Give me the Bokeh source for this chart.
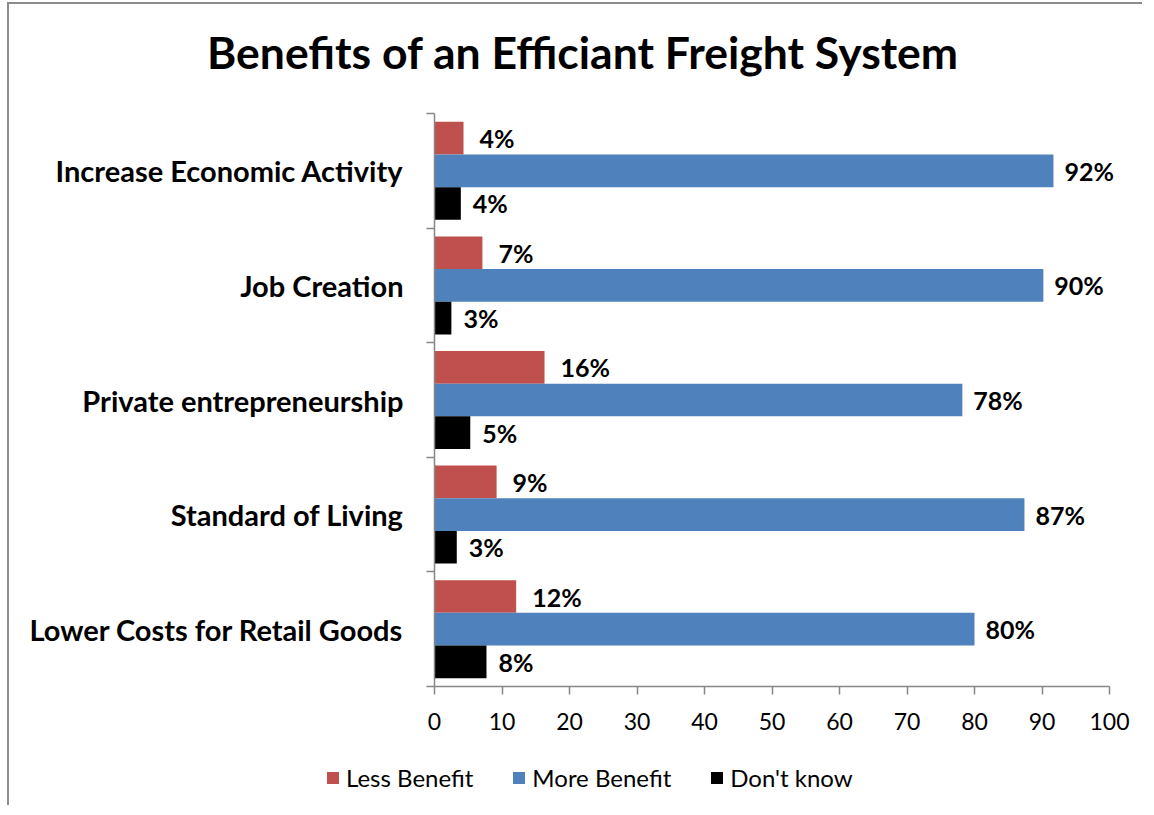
from bokeh.plotting import figure
from bokeh.models import Range1d, FixedTicker, Legend, LegendItem, ColumnDataSource, Label
from bokeh.core.properties import value
from bokeh.embed import file_html
from bokeh.resources import INLINE

title = "Benefits of an Efficiant Freight System"
categories = ["Increase Economic Activity", "Job Creation", "Private entrepreneurship",
              "Standard of Living", "Lower Costs for Retail Goods"]
less_benefit = [4.3, 7.1, 16.3, 9.2, 12.1]
more_benefit = [91.7, 90.2, 78.2, 87.4, 80.0]
dont_know = [3.9, 2.5, 5.3, 3.3, 7.7]
less_labels = ["4%", "7%", "16%", "9%", "12%"]
more_labels = ["92%", "90%", "78%", "87%", "80%"]
dont_labels = ["4%", "3%", "5%", "3%", "8%"]
series_names = ["Less Benefit", "More Benefit", "Don't know"]
x_ticks = [0, 10, 20, 30, 40, 50, 60, 70, 80, 90, 100]

colors = ["#C0504D", "#4F81BD", "#000000"]
FONT = "Lato"
BORDER = "2px solid #8c8c8c"
n = len(categories)
centers = [n - 0.5 - i for i in range(n)]
bh = 0.285

W = 1135
H_TITLE = 104
H_MAIN = 637
H_LEG = 62


def blank(fig):
    fig.axis.visible = False
    fig.xgrid.visible = False
    fig.ygrid.visible = False
    fig.outline_line_color = None
    fig.background_fill_color = "white"
    fig.border_fill_color = "white"


# Title strip
tfig = figure(width=W, height=H_TITLE, output_backend="svg", toolbar_location=None,
              x_range=Range1d(0, W), y_range=Range1d(0, H_TITLE), min_border=0,
              styles={"margin-left": "7px", "margin-top": "2px",
                      "border-left": BORDER, "border-top": BORDER})
blank(tfig)
tfig.add_layout(Label(x=573.5, y=57, text=title, text_font=FONT, text_font_style="bold",
                      text_font_size="44.5px", text_align="center", text_baseline="alphabetic",
                      text_color="black"))

# Main chart
p = figure(width=W, height=H_MAIN, output_backend="svg", toolbar_location=None,
           x_range=Range1d(0, 104), y_range=Range1d(0, n),
           min_border_left=425, min_border_right=8, min_border_top=7, min_border_bottom=57,
           styles={"margin-left": "7px", "border-left": BORDER})
p.outline_line_color = None
p.xgrid.visible = False
p.ygrid.visible = False
p.background_fill_color = "white"
p.border_fill_color = "white"

offsets = [bh, 0.0, -bh]
vals = [less_benefit, more_benefit, dont_know]
labs = [less_labels, more_labels, dont_labels]
xoffs = [16, 11, 12]
for k in range(3):
    src = ColumnDataSource(dict(y=[c + offsets[k] for c in centers], right=vals[k], lab=labs[k]))
    p.hbar(y="y", right="right", left=0, height=bh, source=src,
           fill_color=colors[k], line_color=None)
    p.text(x="right", y="y", text="lab", source=src, x_offset=xoffs[k],
           text_font=value(FONT), text_font_style="bold", text_font_size="25px",
           text_baseline="middle", text_align="left", text_color="black")

ax = p.xaxis[0]
ax.ticker = FixedTicker(ticks=x_ticks)
ax.bounds = (0, 100)
ax.major_tick_out = 8
ax.major_tick_in = 0
ax.minor_tick_out = 0
ax.minor_tick_in = 0
ax.axis_line_color = "#868686"
ax.major_tick_line_color = "#868686"
ax.axis_line_width = 1.5
ax.major_tick_line_width = 1.5
ax.major_label_text_font = FONT
ax.major_label_text_font_size = "23px"
ax.major_label_text_color = "black"
ax.major_label_standoff = 18

ay = p.yaxis[0]
ay.ticker = FixedTicker(ticks=centers, minor_ticks=[float(i) for i in range(n + 1)])
ay.major_label_overrides = {c: name for c, name in zip(centers, categories)}
ay.major_tick_out = 0
ay.major_tick_in = 0
ay.minor_tick_out = 8
ay.minor_tick_in = 0
ay.axis_line_color = "#868686"
ay.minor_tick_line_color = "#868686"
ay.axis_line_width = 1.5
ay.minor_tick_line_width = 1.5
ay.major_label_text_font = FONT
ay.major_label_text_font_style = "bold"
ay.major_label_text_font_size = "29px"
ay.major_label_text_color = "black"
ay.major_label_standoff = 23

# Legend strip
leg = figure(width=W, height=H_LEG, output_backend="svg", toolbar_location=None,
             x_range=Range1d(0, 1), y_range=Range1d(0, 1), min_border=0,
             styles={"margin-left": "7px", "border-left": BORDER})
blank(leg)
leg_renderers = [leg.hbar(y=[-5], right=[-5], left=-6, height=0.5, fill_color=colors[k], line_color=None)
                 for k in range(3)]
legend = Legend(items=[LegendItem(label=series_names[k], renderers=[leg_renderers[k]]) for k in range(3)],
                location=(316, 13), orientation="horizontal",
                glyph_width=15, glyph_height=15, label_standoff=6, spacing=38, padding=0, margin=0,
                label_text_font=FONT, label_text_font_size="24px", label_text_color="black",
                border_line_color=None, background_fill_alpha=0)
leg.add_layout(legend)

open("out.html", "w").write(file_html([tfig, p, leg], INLINE))
